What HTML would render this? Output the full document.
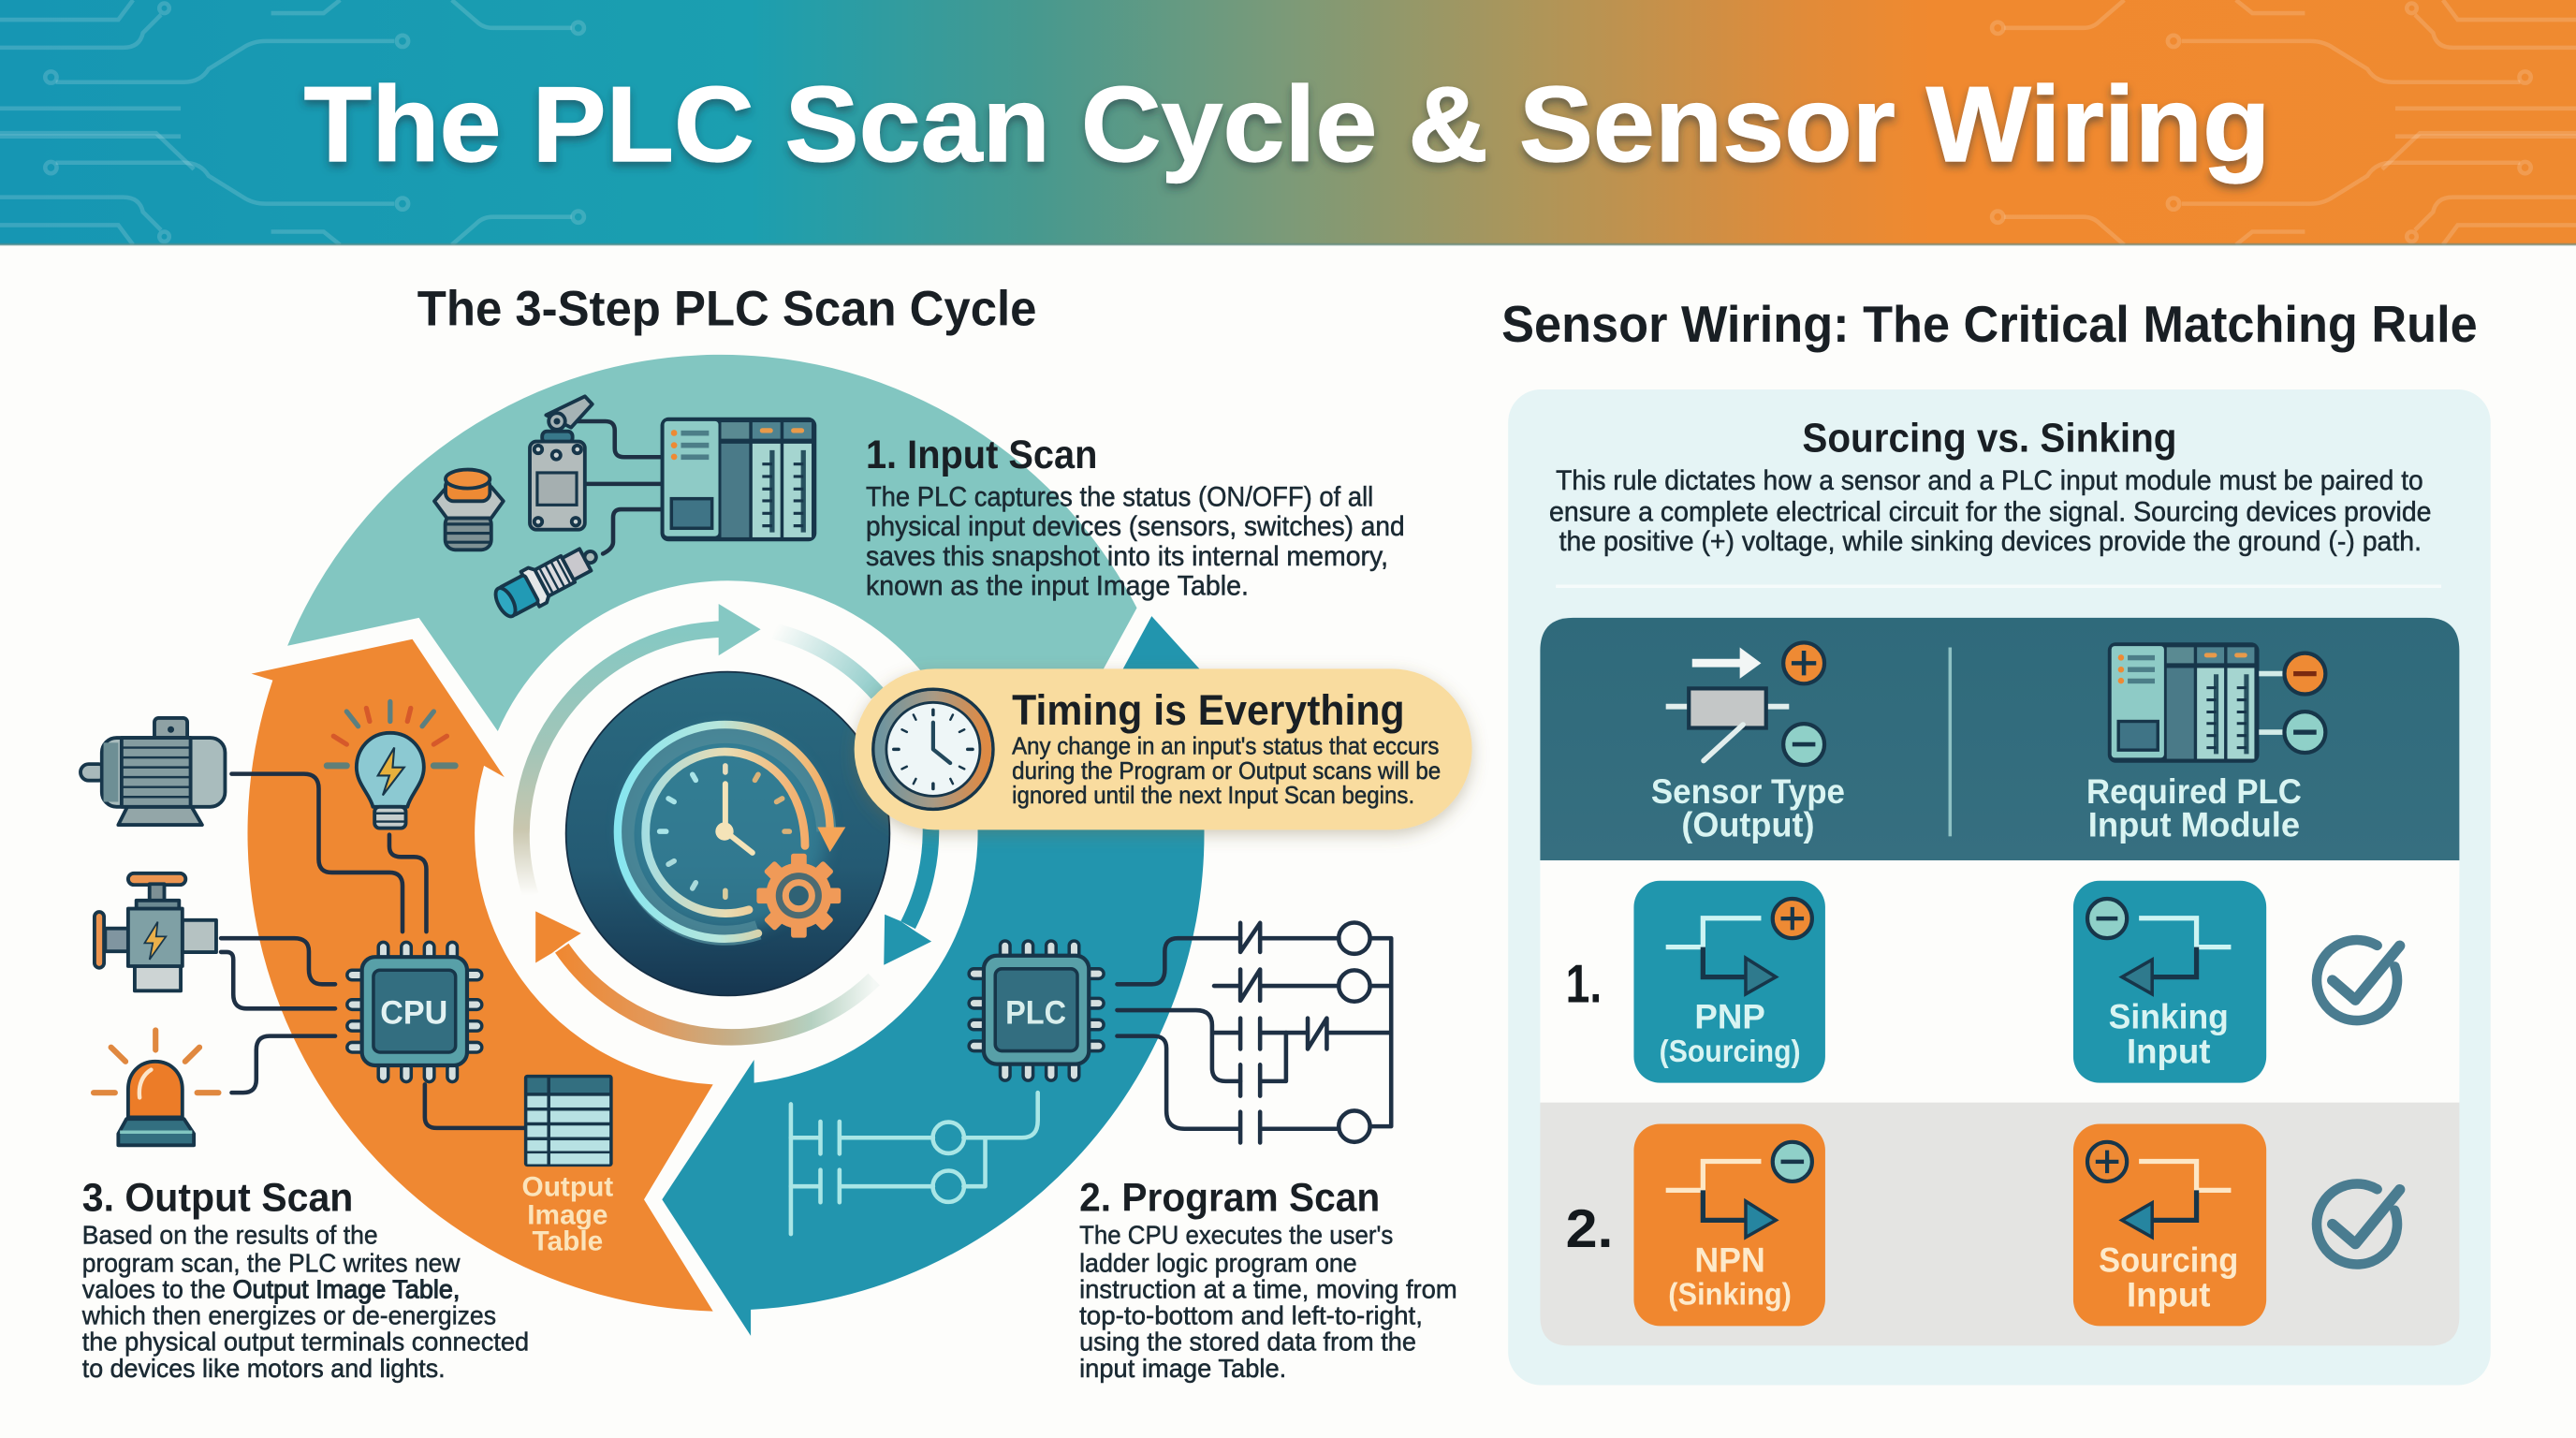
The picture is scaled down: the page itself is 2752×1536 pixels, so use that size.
<!DOCTYPE html>
<html lang="en">
<head>
<meta charset="utf-8">
<title>The PLC Scan Cycle &amp; Sensor Wiring</title>
<style>
html,body{margin:0;padding:0;background:#fdfdfb;width:2752px;height:1536px;overflow:hidden}
svg{display:block;width:2752px;height:1536px;font-family:"Liberation Sans",sans-serif}
.b{fill:#1b2a33;stroke:#1b2a33;stroke-width:.3}
.h{fill:#191f24;font-weight:700}
.w{fill:none;stroke:#1e3044;stroke-width:2.6;stroke-linecap:round;stroke-linejoin:round}
.l{fill:none;stroke:#a9e6e6;stroke-width:2.6;stroke-linecap:round;stroke-linejoin:round}
.ol{stroke:#17364a;stroke-width:2.2;stroke-linejoin:round}
.t{fill:none;stroke:#fff;stroke-opacity:.16;stroke-width:2.6}
.cardw{fill:#d9f4f2;font-weight:700;text-anchor:middle}
.cardo{fill:#fdeacb;font-weight:700;text-anchor:middle}
</style>
</head>
<body>
<svg xmlns="http://www.w3.org/2000/svg" viewBox="0 0 1568 875.16">
<defs>
<linearGradient id="hd" x1="0" x2="1" y1="0" y2="0">
<stop offset="0" stop-color="#1696b3"/><stop offset=".29" stop-color="#1b9fb0"/>
<stop offset=".4" stop-color="#46998f"/><stop offset=".5" stop-color="#7c9a78"/>
<stop offset=".6" stop-color="#b09558"/><stop offset=".7" stop-color="#e18b39"/>
<stop offset=".75" stop-color="#f0892f"/><stop offset="1" stop-color="#ef8a30"/>
</linearGradient>
<filter id="ts" x="-5%" y="-20%" width="110%" height="150%"><feDropShadow dx="0" dy="3" stdDeviation="2.5" flood-color="#22303a" flood-opacity=".5"/></filter>
<filter id="ps" x="-10%" y="-20%" width="120%" height="150%"><feDropShadow dx="0" dy="3" stdDeviation="5" flood-color="#7a6a40" flood-opacity=".35"/></filter>
<filter id="gl" x="-40%" y="-40%" width="180%" height="180%"><feGaussianBlur stdDeviation="5"/></filter>
<linearGradient id="disc" x1="0" x2="0" y1="0" y2="1">
<stop offset="0" stop-color="#2a6a80"/><stop offset=".6" stop-color="#245a73"/><stop offset="1" stop-color="#163650"/>
</linearGradient>
<linearGradient id="ringL" x1="0" x2="0" y1="0" y2="1" gradientUnits="objectBoundingBox">
<stop offset="0" stop-color="#85c8c3"/><stop offset=".45" stop-color="#a2c5b8"/><stop offset=".75" stop-color="#c9c6ae"/><stop offset="1" stop-color="#fdfdfb"/>
</linearGradient>
<linearGradient id="ringT" x1="471" x2="534" y1="384" y2="422" gradientUnits="userSpaceOnUse">
<stop offset="0" stop-color="#fdfdfb"/><stop offset="1" stop-color="#8ecbc9"/>
</linearGradient>
<linearGradient id="ringB" x1="340" x2="532" y1="0" y2="0" gradientUnits="userSpaceOnUse">
<stop offset="0" stop-color="#ef8832"/><stop offset=".3" stop-color="#e2985a"/><stop offset=".55" stop-color="#c4ae88"/><stop offset=".8" stop-color="#b4d0c0"/><stop offset="1" stop-color="#f4f8f5"/>
</linearGradient>
<linearGradient id="clockR" x1="0" x2="1" y1="0" y2="0">
<stop offset="0" stop-color="#6f959f"/><stop offset=".5" stop-color="#a89a85"/><stop offset="1" stop-color="#de8a44"/>
</linearGradient>
<linearGradient id="oRing" x1="376" x2="512" y1="0" y2="0" gradientUnits="userSpaceOnUse">
<stop offset="0" stop-color="#86e6f0"/><stop offset=".45" stop-color="#b6e6dc"/><stop offset=".75" stop-color="#ecc78e"/><stop offset="1" stop-color="#f5a558"/>
</linearGradient>
<linearGradient id="iRing" x1="392" x2="492" y1="0" y2="0" gradientUnits="userSpaceOnUse">
<stop offset="0" stop-color="#a4dde2"/><stop offset=".5" stop-color="#e9dcb2"/><stop offset="1" stop-color="#f4ab68"/>
</linearGradient>
<linearGradient id="tblH" x1="0" x2="0" y1="0" y2="1"><stop offset="0" stop-color="#2f6a7b"/><stop offset="1" stop-color="#366f80"/></linearGradient>

<g id="tr" class="t">
<path d="M0 12H72L81 0"/><path d="M0 29H75Q85 29 87 20L98 9"/><circle cx="100" cy="5" r="3"/>
<path d="M34 50H112Q122 50 127 42L148 29Q154 25 162 25H240"/><circle cx="245" cy="25" r="3.5"/><circle cx="31" cy="47" r="3.5"/>
<path d="M165 8H197L207 0"/><path d="M275 0L290 13Q294 17 300 17H348"/><circle cx="352" cy="17" r="3.5"/>
<path d="M0 66H110"/>
</g>
<g id="chip">
<g fill="#d5dfdf" stroke="#17364a" stroke-width="2">
<rect x="10" y="-9" width="6" height="11" rx="3"/><rect x="24" y="-9" width="6" height="11" rx="3"/><rect x="38" y="-9" width="6" height="11" rx="3"/><rect x="52" y="-9" width="6" height="11" rx="3"/>
<rect x="10" y="65" width="6" height="11" rx="3"/><rect x="24" y="65" width="6" height="11" rx="3"/><rect x="38" y="65" width="6" height="11" rx="3"/><rect x="52" y="65" width="6" height="11" rx="3"/>
<rect x="-9" y="8" width="11" height="6" rx="3"/><rect x="-9" y="26" width="11" height="6" rx="3"/><rect x="-9" y="39" width="11" height="6" rx="3"/><rect x="-9" y="52" width="11" height="6" rx="3"/>
<rect x="62" y="8" width="11" height="6" rx="3"/><rect x="62" y="26" width="11" height="6" rx="3"/><rect x="62" y="39" width="11" height="6" rx="3"/><rect x="62" y="52" width="11" height="6" rx="3"/>
</g>
<rect x="0" y="0" width="64" height="66" rx="8" fill="#58a0a8" stroke="#17364a" stroke-width="2.4"/>
<rect x="7" y="8" width="50" height="50" rx="4" fill="#336e80" stroke="#17364a" stroke-width="2"/>
</g>
<g id="plc">
<rect x="0" y="0" width="95" height="75.5" rx="5" fill="#17364a"/>
<rect x="2.3" y="2.3" width="33" height="70" rx="2" fill="#8ecbc6"/>
<rect x="37" y="3" width="17" height="10" fill="#5a8a92"/><rect x="37" y="16" width="17" height="57" fill="#4a7a88"/>
<rect x="56" y="3" width="17" height="10" fill="#4f8390"/><rect x="75" y="3" width="17" height="10" fill="#4f8390"/>
<rect x="56" y="16" width="17" height="57" fill="#a5d5d0"/><rect x="75" y="16" width="17" height="57" fill="#a5d5d0"/>
<rect x="60.5" y="6.5" width="8" height="3" rx="1.5" fill="#e99a4a"/><rect x="79.5" y="6.5" width="8" height="3" rx="1.5" fill="#e99a4a"/>
<circle cx="8.3" cy="9.5" r="1.9" fill="#ee8a34"/><circle cx="8.3" cy="17" r="1.9" fill="#ee8a34"/><circle cx="8.3" cy="24" r="1.9" fill="#ee8a34"/>
<rect x="12.5" y="8" width="17" height="3.2" fill="#4c7e88"/><rect x="12.5" y="15.4" width="17" height="3.2" fill="#4c7e88"/><rect x="12.5" y="22.6" width="17" height="3.2" fill="#4c7e88"/>
<rect x="6.7" y="49.5" width="24.7" height="18" fill="#3f7486" stroke="#17364a" stroke-width="2"/>
<path d="M68 20V70M87 20V70" stroke="#27505f" stroke-width="3"/>
<path d="M62 28.4H68M62 36H68M62 43.6H68M62 50.8H68M62 58.4H68M62 66H68M81 28.4H87M81 36H87M81 43.6H87M81 50.8H87M81 58.4H87M81 66H87" stroke="#17364a" stroke-width="1.8"/>
</g>
<g id="chk" fill="none" stroke="#4a7c90" stroke-linecap="round" stroke-linejoin="round">
<path d="M12.3 -21.2A24.5 24.5 0 1 0 23 -8.4" stroke-width="6"/>
<path d="M-15 0L-1 12L26 -21" stroke-width="6.5"/>
</g>
</defs>

<rect width="1568" height="876" fill="#fdfdfb"/>
<!-- header -->
<rect width="1568" height="149" fill="url(#hd)"/>
<use href="#tr"/>
<use href="#tr" transform="translate(0 149) scale(1 -1)"/>
<use href="#tr" transform="translate(1568 0) scale(-1 1)"/>
<use href="#tr" transform="translate(1568 149) scale(-1 -1)"/>
<path class="t" d="M0 81H95L118 103"/>
<path class="t" d="M1568 81H1473L1450 103"/>
<rect y="148" width="1568" height="1.5" fill="#5f8a86" opacity=".6"/>
<text x="185" y="98" font-size="65" font-weight="700" fill="#fff" stroke="#fff" stroke-width=".7" textLength="1197" lengthAdjust="spacingAndGlyphs" filter="url(#ts)">The PLC Scan Cycle &amp; Sensor Wiring</text>

<text class="h" x="254" y="198" font-size="30" textLength="377" lengthAdjust="spacingAndGlyphs">The 3-Step PLC Scan Cycle</text>
<text class="h" x="914" y="208" font-size="31" textLength="594" lengthAdjust="spacingAndGlyphs">Sensor Wiring: The Critical Matching Rule</text>

<!-- big arcs -->
<path d="M175 393A285 285 0 0 1 692 370L640 465L596 500A153 153 0 0 0 303 445L255 376Z" fill="#82c6c1"/>
<path d="M701 375L670 432L595 500A153 153 0 0 1 459 659L459 645L403 730L457 813L457 797A290 290 0 0 0 733 505L760 440Z" fill="#2295ae"/>
<path d="M251 389L153 410L166 414A291 291 0 0 0 434 798L392 730L434 660A153 153 0 0 1 294.6 466L307 473Z" fill="#ef8832"/>

<!-- inner ring -->
<path d="M323 545A125 125 0 0 1 438 383" fill="none" stroke="url(#ringL)" stroke-width="10"/>
<polygon points="437.4,367.5 463,383 437.4,399" fill="#85c8c3"/>
<path d="M471 384A125 125 0 0 1 534 422" fill="none" stroke="url(#ringT)" stroke-width="10"/>
<path d="M566.5 500A125 125 0 0 1 552.7 563" fill="none" stroke="#2295ae" stroke-width="10"/>
<polygon points="538.5,556.5 548,560.5 557.5,567 567,573 538,587.3" fill="#2295ae"/>
<path d="M532 596A125 125 0 0 1 342 577" fill="none" stroke="url(#ringB)" stroke-width="10"/>
<polygon points="326,554.6 353.7,568 344.7,573.6 336,580 326,586" fill="#ef8832"/>

<!-- centre disc -->
<circle cx="443" cy="507.4" r="98.5" fill="url(#disc)" stroke="#152f45" stroke-width="1"/>
<circle cx="441" cy="506" r="62" fill="#3c93a8" opacity=".55" filter="url(#gl)"/>
<path d="M461.5 566A61.5 61.5 0 1 1 503 506" fill="none" stroke="#4f8a98" stroke-width="12" opacity=".8"/>
<path d="M461.5 568A65 65 0 0 1 376 506A65 65 0 0 1 441.5 441C478 441 505 470 505.2 505" fill="none" stroke="url(#oRing)" stroke-width="4.8" stroke-linecap="round"/>
<polygon points="497.6,503.4 514.7,503.4 505.2,518.5" fill="#f5a558"/>
<path d="M455.8 553.7A48.5 48.5 0 0 1 393 506A48.5 48.5 0 0 1 441 457.5C468 457.5 490 480 490 514.7" fill="none" stroke="url(#iRing)" stroke-width="5" stroke-linecap="round"/>
<g stroke-width="3.2" stroke-linecap="round">
<line x1="441.5" y1="466" x2="441.5" y2="470" stroke="#e7dcbc"/>
<line x1="441.5" y1="466" x2="441.5" y2="470" stroke="#d9b178" transform="rotate(30 441.5 506)"/>
<line x1="441.5" y1="466" x2="441.5" y2="470" stroke="#d9b178" transform="rotate(60 441.5 506)"/>
<line x1="441.5" y1="467" x2="441.5" y2="470" stroke="#d9b178" transform="rotate(90 441.5 506)"/>
<line x1="441.5" y1="466" x2="441.5" y2="470" stroke="#d8cc9e" transform="rotate(180 441.5 506)"/>
<line x1="441.5" y1="466" x2="441.5" y2="470" stroke="#a9dadb" transform="rotate(210 441.5 506)"/>
<line x1="441.5" y1="466" x2="441.5" y2="470" stroke="#a9dadb" transform="rotate(240 441.5 506)"/>
<line x1="441.5" y1="466" x2="441.5" y2="470" stroke="#a9e4e8" transform="rotate(270 441.5 506)"/>
<line x1="441.5" y1="466" x2="441.5" y2="470" stroke="#a9e4e8" transform="rotate(300 441.5 506)"/>
<line x1="441.5" y1="466" x2="441.5" y2="470" stroke="#a9e4e8" transform="rotate(330 441.5 506)"/>
</g>
<path d="M441.5 477V506L458 519" fill="none" stroke="#f4e3b8" stroke-width="3.4" stroke-linecap="round" stroke-linejoin="round"/>
<circle cx="441" cy="506" r="5.5" fill="#f4e3b8"/>
<g fill="#f09a58">
<circle cx="486.2" cy="545.1" r="20"/>
<rect x="481.5" y="519.5" width="9.5" height="51.2" rx="1.5"/>
<rect x="481.5" y="519.5" width="9.5" height="51.2" rx="1.5" transform="rotate(45 486.2 545.1)"/>
<rect x="481.5" y="519.5" width="9.5" height="51.2" rx="1.5" transform="rotate(90 486.2 545.1)"/>
<rect x="481.5" y="519.5" width="9.5" height="51.2" rx="1.5" transform="rotate(135 486.2 545.1)"/>
</g>
<circle cx="486.2" cy="545.1" r="14" fill="#4c6b72"/>
<circle cx="486.2" cy="545.1" r="8" fill="#2f6275" stroke="#f0a060" stroke-width="4"/>

<!-- Input devices -->
<path class="w" d="M347.6 256.4H368.5Q374.2 256.4 374.2 262V273Q374.2 278.2 380 278.2H402M356 294.5H402M402 310H378Q373.2 310 373.2 315V330Q373 334 367 337"/>
<use href="#plc" x="402" y="254"/>
<!-- limit switch -->
<polygon points="332.4,252.6 356,241.2 360.5,246 347.6,260.2" fill="#a6b3b5" class="ol"/>
<circle cx="339" cy="256.4" r="5" fill="#a6b3b5" class="ol"/>
<circle cx="339" cy="256.4" r="2" fill="#17364a"/>
<rect x="330" y="262.5" width="18.5" height="7" rx="3" fill="#38788a" class="ol"/>
<rect x="322.5" y="268.7" width="33.5" height="53.6" rx="4" fill="#b3bcbc" class="ol"/>
<rect x="327" y="287.7" width="24" height="19.6" fill="#a5afb0" stroke="#17364a" stroke-width="1.8"/>
<circle cx="338.6" cy="277" r="2.6" fill="#cfd6d6" class="ol"/>
<circle cx="327.6" cy="273.5" r="2.4" fill="#cfd6d6" class="ol"/><circle cx="351.4" cy="273.5" r="2.4" fill="#cfd6d6" class="ol"/>
<circle cx="327.6" cy="317.5" r="2.4" fill="#cfd6d6" class="ol"/><circle cx="350.4" cy="317.5" r="2.4" fill="#cfd6d6" class="ol"/>
<!-- push button -->
<rect x="271" y="313" width="28" height="21.6" rx="6" fill="#7f9194" class="ol"/>
<path d="M271 319H299M271 324.5H299M271 330H299" stroke="#17364a" stroke-width="1.8"/>
<path d="M272 296.3H299L306.4 305L299 315.3H272L264.4 305Z" fill="#bcc4c3" class="ol"/>
<rect x="271.2" y="291" width="27" height="14" fill="#ee8a34" class="ol" rx="5"/>
<ellipse cx="284.7" cy="291.5" rx="13.5" ry="5.7" fill="#ef8f3c" class="ol"/>
<!-- prox sensor -->
<g transform="translate(307.7 366.5) rotate(-28)">
<path d="M43 -7.5H55V7.5H43Z" fill="#c9c8cd" class="ol"/>
<circle cx="58.5" cy="0" r="3.5" fill="#a8b8b8" class="ol"/>
<rect x="24" y="-9" width="19" height="18" fill="#dcdce0" class="ol"/>
<path d="M28 -9V9M32 -9V9M36 -9V9M40 -9V9" stroke="#17364a" stroke-width="1.4"/>
<path d="M17 -12H22L25 -9V9L22 12H17Z" fill="#e5e7e8" class="ol"/>
<rect x="0" y="-9.5" width="18" height="19" rx="2" fill="#229ab5" class="ol"/>
<ellipse cx="0" cy="0" rx="4.5" ry="9.5" fill="#2fa8c2" class="ol"/>
</g>

<!-- Output wires -->
<path class="w" d="M141 471H185Q194 471 194 480V523Q194 531 202 531H237Q245 531 245 539V567"/>
<path class="w" d="M237 508V515Q237 521.5 244 521.5H252Q259.5 521.5 259.5 529V567"/>
<path class="w" d="M134.5 571H179Q188 571 188 579V590Q188 599 196 599H204"/>
<path class="w" d="M134.5 579.4H138Q142 579.4 142 584V605Q142 613.8 150 613.8H204"/>
<path class="w" d="M141 665H148Q156 665 156 657V639Q156 630.5 164 630.5H204"/>
<path class="w" d="M258.6 660V680Q258.6 686.5 266 686.5H319"/>
<use href="#chip" x="220.3" y="582.4"/>
<text x="252" y="623" font-size="20" font-weight="700" fill="#e3f2f2" text-anchor="middle" textLength="41" lengthAdjust="spacingAndGlyphs">CPU</text>

<!-- motor -->
<rect x="49" y="465" width="16" height="10" rx="5" fill="#a8b9bb" class="ol"/>
<rect x="94" y="437" width="20" height="14" rx="2.5" fill="#8ea1a4" class="ol"/>
<circle cx="104" cy="444" r="2" fill="#17364a"/>
<path d="M72 502L78 490H116L123 502Z" fill="#93a6a8" class="ol"/>
<rect x="62" y="449" width="75" height="42" rx="9" fill="#a9bcbd" class="ol"/>
<rect x="74" y="449" width="42" height="42" fill="#849ca0" class="ol"/>
<path d="M74 455H116M74 461H116M74 467H116M74 473H116M74 479H116M74 485H116" stroke="#17364a" stroke-width="1.4"/>
<rect x="63" y="452" width="9" height="36" fill="#6e8f95"/>
<!-- bulb -->
<g stroke-linecap="round" stroke-width="3">
<path d="M237.5 427V439M211 433L218 442M264 433L257 442" stroke="#5b7f80"/>
<path d="M223 431L225 439M250 431L248 439M203 448L211 453M272 448L264 453" stroke="#d6592a"/>
<path d="M199 466H211M264 466H277" stroke="#5f7f78" stroke-width="4"/>
</g>
<path d="M237.5 446C225 446 217 456 217 467C217 477 225 483 227 491H248C250 483 258 477 258 467C258 456 250 446 237.5 446Z" fill="#8cc9d2" class="ol"/>
<polygon points="240,455 230,472 237,472 233,484 246,467 239,467" fill="#e7b03c" stroke="#17364a" stroke-width="1.2"/>
<rect x="228" y="491" width="19" height="13" rx="3" fill="#c5cdcc" class="ol"/>
<path d="M228 495H247M228 500H247" stroke="#17364a" stroke-width="1.4"/>
<!-- valve -->
<rect x="78" y="531.5" width="35" height="7" rx="3.5" fill="#ed9550" class="ol"/>
<rect x="91" y="538" width="9" height="12" fill="#7d9095" class="ol"/>
<rect x="83" y="548" width="26" height="6" fill="#6c8a92" class="ol"/>
<rect x="111" y="560" width="20.6" height="19.5" fill="#b5c2c2" class="ol"/>
<rect x="82" y="588" width="28" height="15" fill="#cdd4d4" class="ol"/>
<rect x="64" y="565" width="14" height="14" fill="#8095a0" class="ol"/>
<rect x="57.5" y="555" width="5.8" height="34" rx="3" fill="#ed9550" class="ol"/>
<rect x="78" y="553" width="33" height="35" fill="#7fa0a5" class="ol"/>
<polygon points="96,561 88,574 93,574 91,584 101,570 95,570" fill="#eab04a" stroke="#17364a" stroke-width="1"/>
<!-- alarm -->
<g stroke="#e0883f" stroke-width="3.2" stroke-linecap="round">
<path d="M94.7 627V639M67.6 637.4L76.4 646M121.4 637.4L112.7 646M57 665H70M120 665H133" stroke-width="3.5"/>
</g>
<path d="M78 680V663C78 653 85 646 94.5 646C104 646 111 653 111 663V680Z" fill="#ec7c28" class="ol"/>
<path d="M85 668C84 660 87 654 92 651" fill="none" stroke="#fce5c9" stroke-width="2.5" stroke-linecap="round"/>
<path d="M72 697V690L77 681H112L118 690V697Z" fill="#336f80" class="ol"/>
<path d="M73 689H117" stroke="#82c6c1" stroke-width="2"/>
<!-- output table -->
<rect x="319" y="654" width="54" height="56" rx="2" fill="#17364a"/>
<rect x="321" y="656" width="12" height="9" fill="#336f80"/><rect x="335" y="656" width="36" height="9" fill="#336f80"/>
<rect x="321" y="667" width="12" height="7" fill="#b7e1e3"/><rect x="335" y="667" width="36" height="7" fill="#b7e1e3"/>
<rect x="321" y="676" width="12" height="7" fill="#b7e1e3"/><rect x="335" y="676" width="36" height="7" fill="#b7e1e3"/>
<rect x="321" y="685" width="12" height="7" fill="#b7e1e3"/><rect x="335" y="685" width="36" height="7" fill="#b7e1e3"/>
<rect x="321" y="694" width="12" height="6.5" fill="#b7e1e3"/><rect x="335" y="694" width="36" height="6.5" fill="#b7e1e3"/>
<rect x="321" y="702" width="12" height="6.5" fill="#b7e1e3"/><rect x="335" y="702" width="36" height="6.5" fill="#b7e1e3"/>
<g fill="#fbe4bb" font-weight="700" font-size="17" text-anchor="middle">
<text x="345.5" y="728">Output</text><text x="345.5" y="745">Image</text><text x="345.5" y="761">Table</text>
</g>

<!-- PLC chip + ladder -->
<use href="#chip" x="598.8" y="581.6"/>
<text x="630.5" y="623" font-size="20" font-weight="700" fill="#d9eeec" text-anchor="middle" textLength="37" lengthAdjust="spacingAndGlyphs">PLC</text>
<path class="w" d="M680 599H701Q709 599 709 590V579Q709 571 717 571H755M767 571H815M834 571H846.8V685.5H834"/>
<path class="w" d="M755 561.7V579.4M767 561.7V579.4M755 579.4L767 561.7"/>
<circle cx="824.4" cy="571" r="9.5" fill="none" class="w"/>
<path class="w" d="M739 600H755M767 600H815M834 600H846.8M755 590V609M767 590V609M755 609L767 590"/>
<circle cx="824.4" cy="600" r="9.5" fill="none" class="w"/>
<path class="w" d="M680 614.8H728Q737.8 614.8 737.8 624V650Q737.8 658 746 658H755M737.8 628.5H755M767 628.5H796M807.6 628.5H846.8M755 619.7V638.4M767 619.7V638.4M796 619.7V638.4M807.6 619.7V638.4M796 638.4L807.6 619.7"/>
<path class="w" d="M755 648V667M767 648V667M767 658H782.8V628.5"/>
<path class="w" d="M680 630.5H702Q710 630.5 710 638V676Q710 687 721 687H755M767 687H815M755 676.7V695.4M767 676.7V695.4"/>
<circle cx="824.4" cy="685.5" r="9.5" fill="none" class="w"/>
<path class="l" d="M481.4 672V751"/>
<path class="l" d="M481.4 692.4H499.4M499.4 682.6V702.2M511 682.6V702.2M511 692.4H568M586.5 692.4H622Q631.7 692.4 631.7 682V665"/>
<circle cx="577.3" cy="692.4" r="9.5" fill="none" class="l"/>
<path class="l" d="M481.4 722H499.4M499.4 712V731.7M511 712V731.7M511 722H568M586.5 722H599.7V692.4"/>
<circle cx="577.3" cy="722" r="9.5" fill="none" class="l"/>

<!-- scan texts -->
<text class="h" x="527" y="285" font-size="24.5" textLength="141" lengthAdjust="spacingAndGlyphs">1. Input Scan</text>
<g font-size="17">
<text class="b" x="527" y="308" textLength="309" lengthAdjust="spacingAndGlyphs">The PLC captures the status (ON/OFF) of all</text>
<text class="b" x="527" y="326" textLength="328" lengthAdjust="spacingAndGlyphs">physical input devices (sensors, switches) and</text>
<text class="b" x="527" y="344" textLength="318" lengthAdjust="spacingAndGlyphs">saves this snapshot into its internal memory,</text>
<text class="b" x="527" y="362" textLength="233" lengthAdjust="spacingAndGlyphs">known as the input Image Table.</text>
</g>
<text class="h" x="50" y="737" font-size="24.5" textLength="165" lengthAdjust="spacingAndGlyphs">3. Output Scan</text>
<g font-size="16">
<text class="b" x="50" y="757" textLength="180" lengthAdjust="spacingAndGlyphs">Based on the results of the</text>
<text class="b" x="50" y="774" textLength="230" lengthAdjust="spacingAndGlyphs">program scan, the PLC writes new</text>
<text class="b" x="50" y="790" textLength="230" lengthAdjust="spacingAndGlyphs">valoes to the <tspan stroke-width=".6">Output Image Table,</tspan></text>
<text class="b" x="50" y="806" textLength="252" lengthAdjust="spacingAndGlyphs">which then energizes or de-energizes</text>
<text class="b" x="50" y="822" textLength="272" lengthAdjust="spacingAndGlyphs">the physical output terminals connected</text>
<text class="b" x="50" y="838" textLength="221" lengthAdjust="spacingAndGlyphs">to devices like motors and lights.</text>
</g>
<text class="h" x="657" y="737" font-size="24.5" textLength="183" lengthAdjust="spacingAndGlyphs">2. Program Scan</text>
<g font-size="16">
<text class="b" x="657" y="757" textLength="191" lengthAdjust="spacingAndGlyphs">The CPU executes the user's</text>
<text class="b" x="657" y="774" textLength="169" lengthAdjust="spacingAndGlyphs">ladder logic program one</text>
<text class="b" x="657" y="790" textLength="230" lengthAdjust="spacingAndGlyphs">instruction at a time, moving from</text>
<text class="b" x="657" y="806" textLength="209" lengthAdjust="spacingAndGlyphs">top-to-bottom and left-to-right,</text>
<text class="b" x="657" y="822" textLength="205" lengthAdjust="spacingAndGlyphs">using the stored data from the</text>
<text class="b" x="657" y="838" textLength="126" lengthAdjust="spacingAndGlyphs">input image Table.</text>
</g>

<!-- pill -->
<rect x="520" y="407" width="376" height="98" rx="49" fill="#f9dc9f" filter="url(#ps)"/>
<circle cx="568" cy="456" r="36.5" fill="#6f959f" stroke="#17364a" stroke-width="2"/>
<circle cx="568" cy="456" r="32" fill="#eef6f7" stroke="url(#clockR)" stroke-width="7"/>
<circle cx="568" cy="456" r="28.5" fill="#eef6f7" stroke="#17364a" stroke-width="1.6"/>
<g stroke="#17364a" stroke-width="2" stroke-linecap="round">
<path d="M568 432V435M568 477V480M544 456H547M589 456H592"/>
<path d="M580 435L578.5 438M587 444L584 445.5M587 468L584 466.5M580 477L578.5 474M556 477L557.5 474M549 468L552 466.5M549 444L552 445.5M556 435L557.5 438" stroke-width="1.4"/>
</g>
<path d="M568 439.7V456L578.4 464.4" fill="none" stroke="#22485c" stroke-width="2.4" stroke-linecap="round" stroke-linejoin="round"/>
<text class="h" x="616" y="441" font-size="26" textLength="239" lengthAdjust="spacingAndGlyphs">Timing is Everything</text>
<g font-size="14.5">
<text class="b" x="616" y="459" textLength="260" lengthAdjust="spacingAndGlyphs">Any change in an input's status that eccurs</text>
<text class="b" x="616" y="474" textLength="261" lengthAdjust="spacingAndGlyphs">during the Program or Output scans will be</text>
<text class="b" x="616" y="489" textLength="245" lengthAdjust="spacingAndGlyphs">ignored until the next Input Scan begins.</text>
</g>

<!-- right panel -->
<rect x="918" y="237" width="598" height="606" rx="20" fill="#e5f4f5"/>
<text class="h" x="1097" y="275" font-size="25" textLength="228" lengthAdjust="spacingAndGlyphs">Sourcing vs. Sinking</text>
<g font-size="17">
<text class="b" x="947" y="298" textLength="528" lengthAdjust="spacingAndGlyphs">This rule dictates how a sensor and a PLC input module must be paired to</text>
<text class="b" x="943" y="317" textLength="537" lengthAdjust="spacingAndGlyphs">ensure a complete electrical circuit for the signal. Sourcing devices provide</text>
<text class="b" x="949" y="335" textLength="525" lengthAdjust="spacingAndGlyphs">the positive (+) voltage, while sinking devices provide the ground (-) path.</text>
</g>
<rect x="947" y="355.8" width="539" height="2" fill="#f6fbfb"/>

<path d="M937.5 396Q937.5 376 957.5 376H1477Q1497 376 1497 396V523.6H937.5Z" fill="url(#tblH)"/>
<rect x="937.5" y="523.6" width="559.5" height="147.6" fill="#fdfdfb"/>
<path d="M937.5 671H1497V801Q1497 819 1479 819H955Q937.5 819 937.5 801Z" fill="#e4e4e2"/>

<!-- header icons -->
<path d="M1030 401H1059V394L1072 403.6L1059 413V406H1030Z" fill="#f2f6f5"/>
<circle cx="1098" cy="403.6" r="12.5" fill="#ee8a34" stroke="#17364a" stroke-width="2.4"/>
<path d="M1098 396V411M1090.5 403.6H1105.5" stroke="#17364a" stroke-width="2.6"/>
<path d="M1014 430H1089" stroke="#e2eeed" stroke-width="3.4"/>
<rect x="1028" y="419" width="47" height="24" fill="#c4c7c7" stroke="#17364a" stroke-width="2.4"/>
<path d="M1061 441L1037 463" stroke="#e2eeed" stroke-width="3.2" stroke-linecap="round"/>
<circle cx="1098" cy="453" r="12.5" fill="#8fd0c8" stroke="#17364a" stroke-width="2.4"/>
<path d="M1091 453H1105" stroke="#17364a" stroke-width="2.6"/>
<rect x="1186" y="394" width="2" height="115" fill="#8fc2c4"/>
<use href="#plc" transform="translate(1283 391) scale(.97 .97)"/>
<path d="M1375 410H1392M1375 445.6H1392" stroke="#d3ebe8" stroke-width="3.2"/>
<circle cx="1403" cy="410" r="12.5" fill="#ee8a34" stroke="#17364a" stroke-width="2.4"/>
<path d="M1396 410H1410" stroke="#7a2a10" stroke-width="3"/>
<circle cx="1403" cy="445.6" r="12.5" fill="#8fd0c8" stroke="#17364a" stroke-width="2.4"/>
<path d="M1396 445.6H1410" stroke="#17364a" stroke-width="3"/>
<g class="cardw" font-size="21">
<text x="1064" y="489" textLength="118" lengthAdjust="spacingAndGlyphs">Sensor Type</text>
<text x="1064" y="509" textLength="81" lengthAdjust="spacingAndGlyphs">(Output)</text>
<text x="1335.5" y="489" textLength="131" lengthAdjust="spacingAndGlyphs">Required PLC</text>
<text x="1335.5" y="509" textLength="129" lengthAdjust="spacingAndGlyphs">Input Module</text>
</g>

<!-- row numbers -->
<text x="953" y="610" font-size="33" font-weight="700" fill="#14191d" textLength="22" lengthAdjust="spacingAndGlyphs">1.</text>
<text x="953" y="759" font-size="33" font-weight="700" fill="#14191d" textLength="29" lengthAdjust="spacingAndGlyphs">2.</text>

<!-- cards -->
<rect x="994.5" y="536" width="116.5" height="123" rx="16" fill="#2096ad"/>
<rect x="1262" y="536" width="117.5" height="123" rx="16" fill="#2096ad"/>
<rect x="994.5" y="684" width="116.5" height="123" rx="16" fill="#f0872f"/>
<rect x="1262" y="684" width="117.5" height="123" rx="16" fill="#f0872f"/>

<!-- PNP -->
<path d="M1014 576.4H1036.6V558.8H1072" fill="none" stroke="#cdf4f3" stroke-width="3"/>
<path d="M1036.6 576.4V594.6H1062" fill="none" stroke="#17364a" stroke-width="3"/>
<polygon points="1062.6,583 1081,594.6 1062.6,605" fill="#2f7a8d" stroke="#17364a" stroke-width="2"/>
<circle cx="1091" cy="559" r="12" fill="#ee8a34" stroke="#17364a" stroke-width="2.4"/>
<path d="M1091 552V566M1084 559H1098" stroke="#17364a" stroke-width="2.4"/>
<text class="cardw" x="1053" y="626" font-size="21" textLength="43" lengthAdjust="spacingAndGlyphs">PNP</text>
<text class="cardw" x="1053" y="646" font-size="19" textLength="86" lengthAdjust="spacingAndGlyphs">(Sourcing)</text>
<!-- Sinking -->
<path d="M1302 558.8H1337V576.4H1358" fill="none" stroke="#cdf4f3" stroke-width="3"/>
<path d="M1337 576.4V594.6H1310" fill="none" stroke="#17364a" stroke-width="3"/>
<polygon points="1310,584 1291.6,594.6 1310,605" fill="#2f7a8d" stroke="#17364a" stroke-width="2"/>
<circle cx="1282.6" cy="559" r="12" fill="#8fd0c8" stroke="#17364a" stroke-width="2.4"/>
<path d="M1276 559H1289" stroke="#17364a" stroke-width="2.6"/>
<text class="cardw" x="1320" y="626" font-size="21" textLength="73" lengthAdjust="spacingAndGlyphs">Sinking</text>
<text class="cardw" x="1320" y="647" font-size="21" textLength="51" lengthAdjust="spacingAndGlyphs">Input</text>
<use href="#chk" x="1434.7" y="596.6"/>
<!-- NPN -->
<path d="M1014 724.4H1036.6V706.8H1072" fill="none" stroke="#fde7c6" stroke-width="3"/>
<path d="M1036.6 724.4V742.6H1062" fill="none" stroke="#17364a" stroke-width="3"/>
<polygon points="1062.6,731 1081,742.6 1062.6,753" fill="#2685a0" stroke="#17364a" stroke-width="2"/>
<circle cx="1091" cy="707" r="12" fill="#8fd0c8" stroke="#17364a" stroke-width="2.4"/>
<path d="M1084 707H1098" stroke="#17364a" stroke-width="2.6"/>
<text class="cardo" x="1053" y="774" font-size="21" textLength="43" lengthAdjust="spacingAndGlyphs">NPN</text>
<text class="cardo" x="1053" y="794" font-size="19" textLength="75" lengthAdjust="spacingAndGlyphs">(Sinking)</text>
<!-- Sourcing -->
<path d="M1302 706.8H1337V724.4H1358" fill="none" stroke="#fde7c6" stroke-width="3"/>
<path d="M1337 724.4V742.6H1310" fill="none" stroke="#17364a" stroke-width="3"/>
<polygon points="1310,732 1291.6,742.6 1310,753" fill="#2685a0" stroke="#17364a" stroke-width="2"/>
<circle cx="1282.6" cy="707" r="12" fill="#ee8a34" stroke="#17364a" stroke-width="2.4"/>
<path d="M1282.6 700V714M1275.6 707H1289.6" stroke="#17364a" stroke-width="2.4"/>
<text class="cardo" x="1320" y="774" font-size="21" textLength="85" lengthAdjust="spacingAndGlyphs">Sourcing</text>
<text class="cardo" x="1320" y="795" font-size="21" textLength="51" lengthAdjust="spacingAndGlyphs">Input</text>
<use href="#chk" x="1434.7" y="745"/>
</svg>
</body>
</html>
